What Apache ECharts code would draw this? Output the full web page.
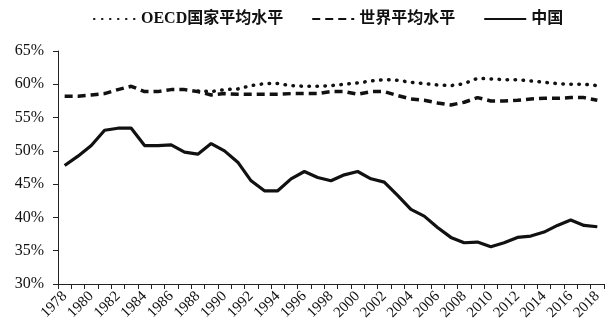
<!DOCTYPE html>
<html>
<head>
<meta charset="utf-8">
<script src="https://cdn.jsdelivr.net/npm/echarts@6/dist/echarts.min.js"></script>
<style>
  html, body { margin: 0; padding: 0; background: #fff; }
  #chart { width: 615px; height: 334px; }
</style>
</head>
<body>
<div id="chart"></div>
<script>
// Years 1978-2018
const years = [];
for (let y = 1978; y <= 2018; y++) years.push(String(y));

// Shares in percent (OECD series begins in 1988)
const oecdAvg = [null, null, null, null, null, null, null, null, null, null,
  59.0, 58.9, 59.2, 59.3, 59.8, 60.1, 60.1, 59.8, 59.7, 59.7,
  59.8, 60.0, 60.2, 60.5, 60.7, 60.6, 60.3, 60.1, 59.9, 59.8,
  60.1, 60.9, 60.8, 60.7, 60.7, 60.5, 60.3, 60.1, 60.0, 60.0, 59.8];

const worldAvg = [58.2, 58.2, 58.4, 58.6, 59.2, 59.7, 58.9, 58.9, 59.2, 59.2,
  58.9, 58.4, 58.6, 58.5, 58.5, 58.5, 58.5, 58.6, 58.6, 58.6,
  58.9, 58.9, 58.5, 58.9, 58.9, 58.3, 57.8, 57.6, 57.2, 56.9,
  57.3, 58.0, 57.5, 57.5, 57.6, 57.8, 57.9, 57.9, 58.0, 58.0, 57.6];

const china = [47.8, 49.2, 50.8, 53.1, 53.4, 53.4, 50.8, 50.8, 50.9, 49.8,
  49.5, 51.1, 50.0, 48.3, 45.5, 44.0, 44.0, 45.8, 46.9, 46.0,
  45.5, 46.4, 46.9, 45.8, 45.3, 43.3, 41.2, 40.2, 38.5, 37.0,
  36.2, 36.3, 35.6, 36.2, 37.0, 37.2, 37.8, 38.8, 39.6, 38.8, 38.6];

const seriesNames = ['OECD国家平均水平', '世界平均水平', '中国'];

const serif = '"Liberation Serif", "Times New Roman", "Noto Sans CJK SC", serif';

const chart = echarts.init(document.getElementById('chart'), null, { renderer: 'canvas' });

chart.setOption({
  animation: false,
  backgroundColor: '#ffffff',
  legend: {
    top: 6,
    left: 88,
    itemWidth: 42,
    itemHeight: 14,
    itemGap: 28,
    itemStyle: { opacity: 0 },
    textStyle: { fontFamily: serif, fontSize: 16, fontWeight: 'bold', color: '#111' },
    data: seriesNames
  },
  grid: { left: 58, right: 11, top: 51, bottom: 50, containLabel: false },
  xAxis: {
    type: 'category',
    data: years,
    boundaryGap: true,
    axisLine: { lineStyle: { color: '#222', width: 1 } },
    axisTick: { show: true, interval: 0, length: 5, lineStyle: { color: '#222' } },
    axisLabel: {
      interval: 1,
      rotate: 45,
      margin: 10,
      fontFamily: serif,
      fontSize: 15,
      color: '#111'
    },
    splitLine: { show: false }
  },
  yAxis: {
    type: 'value',
    min: 30,
    max: 65,
    interval: 5,
    axisLine: { show: true, lineStyle: { color: '#222', width: 1 } },
    axisTick: { show: true, length: 5, lineStyle: { color: '#222' } },
    axisLabel: {
      formatter: '{value}%',
      margin: 14,
      fontFamily: serif,
      fontSize: 16,
      color: '#111'
    },
    splitLine: { show: false }
  },
  series: [
    {
      name: seriesNames[0],
      type: 'line',
      data: oecdAvg,
      symbol: 'none',
      lineStyle: { color: '#111', width: 3.5, type: [0.5, 7.5], cap: 'round' },
      itemStyle: { color: '#111' },
      z: 3
    },
    {
      name: seriesNames[1],
      type: 'line',
      data: worldAvg,
      symbol: 'none',
      lineStyle: { color: '#111', width: 3.5, type: [8, 5] },
      itemStyle: { color: '#111' },
      z: 2
    },
    {
      name: seriesNames[2],
      type: 'line',
      data: china,
      symbol: 'none',
      lineStyle: { color: '#111', width: 3.2 },
      itemStyle: { color: '#111' },
      z: 4
    }
  ]
});
</script>
</body>
</html>
